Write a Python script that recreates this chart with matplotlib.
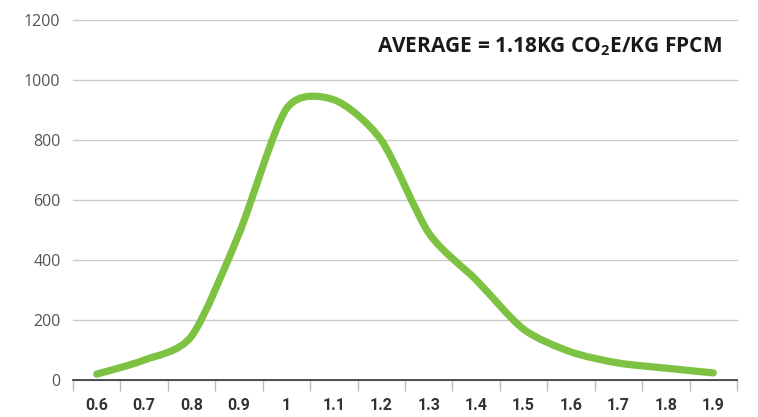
import numpy as np
import matplotlib
matplotlib.use("Agg")
import matplotlib.pyplot as plt
from matplotlib.path import Path
from matplotlib.patches import PathPatch

# intensity bins (kg CO2e / kg FPCM) and number of farms
categories = ["0.6", "0.7", "0.8", "0.9", "1", "1.1", "1.2", "1.3",
              "1.4", "1.5", "1.6", "1.7", "1.8", "1.9"]
counts = [18, 65, 145, 487, 905, 935, 800, 490, 333, 168, 92, 55, 38, 22]
y_ticks = [0, 200, 400, 600, 800, 1000, 1200]
note = r"AVERAGE = 1.18KG CO$_{\mathbf{2}}$E/KG FPCM"

plt.rcParams['mathtext.fontset'] = 'custom'
plt.rcParams['mathtext.bf'] = 'Open Sans:bold'
plt.rcParams['mathtext.rm'] = 'Open Sans:bold'

fig = plt.figure(figsize=(7.58, 4.17), dpi=100)
ax = fig.add_axes([73 / 758, 1 - 379.5 / 417, 664 / 758, 359 / 417])

# smoothed line (like a spreadsheet "smooth line"), bezier through the points
x = np.arange(len(counts), dtype=float)
y = np.array(counts, dtype=float)
verts = [(x[0], y[0])]
codes = [Path.MOVETO]
t = 0.13
for i in range(len(x) - 1):
    p0 = (x[i - 1], y[i - 1]) if i > 0 else (x[i], y[i])
    p3 = (x[i + 2], y[i + 2]) if i + 2 < len(x) else (x[i + 1], y[i + 1])
    c1 = (x[i] + (x[i + 1] - p0[0]) * t, y[i] + (y[i + 1] - p0[1]) * t)
    c2 = (x[i + 1] - (p3[0] - x[i]) * t, y[i + 1] - (p3[1] - y[i]) * t)
    verts += [c1, c2, (x[i + 1], y[i + 1])]
    codes += [Path.CURVE4] * 3
ax.add_patch(PathPatch(Path(verts, codes), fill=False, edgecolor="#7dc242",
                       linewidth=5.2, capstyle="round", joinstyle="round", zorder=3))

ax.set_xlim(-0.5, len(categories) - 0.5)
ax.set_ylim(0, 1200)

ax.set_xticks(x)
ax.set_xticklabels(categories, fontfamily="Roboto", fontweight="bold",
                   fontsize=11.5, color="#333333")
ax.set_xticks(np.arange(-0.5, len(categories)), minor=True)
ax.tick_params(axis="x", which="major", length=0, pad=13)
ax.tick_params(axis="x", which="minor", length=8, width=1, color="#bbbbbb")

ax.set_yticks(y_ticks)
ax.set_yticklabels([str(v) for v in y_ticks], fontfamily="Open Sans",
                   fontsize=11.5, color="#555555")
ax.tick_params(axis="y", length=0, pad=9)
ax.grid(axis="y", color="#cccccc", linewidth=1)
for gl in ax.get_ygridlines():
    gl.set_clip_on(False)
ax.set_axisbelow(True)

for s in ["top", "right", "left"]:
    ax.spines[s].set_visible(False)
ax.spines["bottom"].set_color("#333333")
ax.spines["bottom"].set_linewidth(1.2)
ax.spines["bottom"].set_zorder(4)

ax.text(0.977, 0.926, note, transform=ax.transAxes, ha="right", va="center",
        fontfamily="Open Sans", fontweight="bold", fontsize=15, color="#1a1a1a")

fig.savefig("out.png", dpi=100)
